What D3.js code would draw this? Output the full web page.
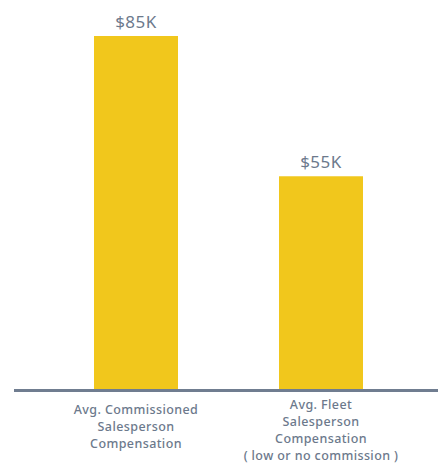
<!DOCTYPE html>
<html>
<head>
<meta charset="utf-8">
<script src="https://cdn.jsdelivr.net/npm/d3@7"></script>
<style>
  body { margin: 0; background: #fff; }
  text { font-family: "Noto Sans", sans-serif; fill: #6c798c; }
</style>
</head>
<body>
<div id="chart"></div>
<script>
var categories = ['commissioned', 'fleet'];
var values = [85, 55];
var valueLabels = ['$85K', '$55K'];
var categoryLabels = [
  ['Avg. Commissioned', 'Salesperson', 'Compensation'],
  ['Avg. Fleet', 'Salesperson', 'Compensation', '( low or no commission )']
];

(function () {
  var width = 438, height = 464;
  var baseY = 389;

  var svg = d3.select('#chart').append('svg')
    .attr('width', width)
    .attr('height', height);

  var x = d3.scaleBand()
    .domain(categories)
    .range([1.5, 455.5])
    .paddingInner(0.546)
    .paddingOuter(0.5);

  var y = d3.scaleLinear()
    .domain([9.5, 85])
    .range([baseY, 36]);

  var data = categories.map(function (c, i) {
    return { key: c, value: values[i], label: valueLabels[i], lines: categoryLabels[i] };
  });

  svg.selectAll('.bar')
    .data(data)
    .enter().append('rect')
    .attr('class', 'bar')
    .attr('x', function (d) { return x(d.key); })
    .attr('width', x.bandwidth())
    .attr('y', function (d) { return y(d.value); })
    .attr('height', function (d) { return baseY - y(d.value); })
    .style('fill', '#f1c71c');

  svg.selectAll('.value')
    .data(data)
    .enter().append('text')
    .attr('class', 'value')
    .attr('x', function (d) { return x(d.key) + x.bandwidth() / 2; })
    .attr('y', function (d) { return y(d.value) - 8; })
    .attr('text-anchor', 'middle')
    .style('font-size', '17px')
    .style('letter-spacing', '0.5px')
    .text(function (d) { return d.label; });

  // baseline
  svg.append('line')
    .attr('x1', 14).attr('x2', width)
    .attr('y1', baseY + 1.5).attr('y2', baseY + 1.5)
    .style('stroke', '#707d90')
    .style('stroke-width', 3);

  var labels = svg.selectAll('.cat')
    .data(data)
    .enter().append('text')
    .attr('class', 'cat')
    .attr('text-anchor', 'middle')
    .style('font-size', '12.5px')
    .style('letter-spacing', '0.4px')
    .style('font-weight', 500)
    .attr('transform', function (d) {
      var top = d.lines.length > 3 ? 408.5 : 414;
      return 'translate(' + (x(d.key) + x.bandwidth() / 2) + ',' + top + ')';
    });

  labels.selectAll('tspan')
    .data(function (d) { return d.lines; })
    .enter().append('tspan')
    .attr('x', 0)
    .attr('y', function (d, i) { return i * 17; })
    .text(function (d) { return d; });
})();
</script>
</body>
</html>
